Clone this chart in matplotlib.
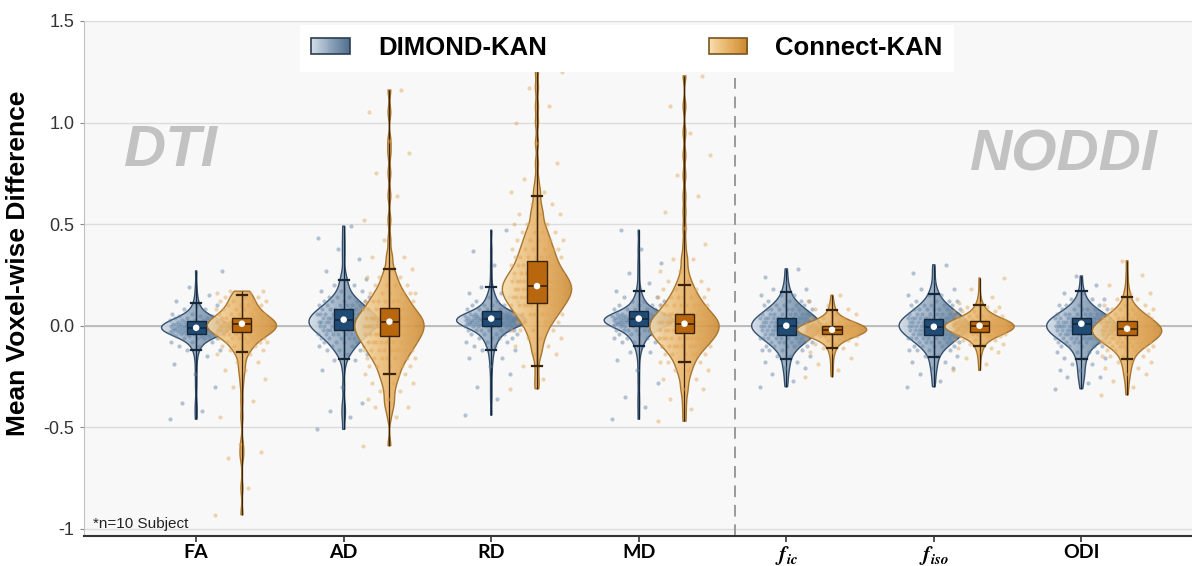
import numpy as np
import matplotlib.pyplot as plt
from matplotlib.colors import LinearSegmentedColormap
from matplotlib.legend_handler import HandlerBase
from matplotlib.patches import Rectangle

plt.rcParams['font.family'] = ['Liberation Sans', 'DejaVu Sans']
plt.rcParams['mathtext.fontset'] = 'stix'

metrics = ["FA", "AD", "RD", "MD", r"$\mathbfit{f}_{\mathbfit{ic}}$",
           r"$\mathbfit{f}_{\mathbfit{iso}}$", "ODI"]

fa_dimond_v = [-0.46, -0.42, -0.38, -0.30, -0.24, -0.19, -0.15, -0.12, -0.10, -0.08, -0.06, -0.05,
               -0.04, -0.03, -0.02, -0.01, 0.0, 0.01, 0.02, 0.03, 0.04, 0.05, 0.06, 0.08, 0.10,
               0.12, 0.15, 0.19, 0.27]
fa_dimond_n = [1, 1, 1, 1, 1, 1, 1, 2, 2, 3, 4, 5, 7, 9, 11, 12, 11, 9, 7, 5, 4, 3, 2, 2, 2,
               1, 1, 1, 1]
fa_connect_v = [-0.93, -0.80, -0.65, -0.62, -0.58, -0.45, -0.37, -0.30, -0.26, -0.22, -0.18, -0.14,
                -0.12, -0.10, -0.08, -0.06, -0.04, -0.02, 0.0, 0.02, 0.04, 0.06, 0.08, 0.10, 0.12,
                0.14, 0.16, 0.17]
fa_connect_n = [1, 1, 1, 1, 1, 1, 1, 1, 1, 2, 2, 2, 3, 3, 4, 6, 8, 10, 12, 10, 8, 6, 5, 4, 4,
                3, 3, 2]
ad_dimond_v = [-0.51, -0.45, -0.42, -0.38, -0.30, -0.22, -0.17, -0.14, -0.12, -0.10, -0.08, -0.06,
               -0.04, -0.02, 0.0, 0.02, 0.04, 0.06, 0.08, 0.10, 0.12, 0.14, 0.17, 0.20, 0.23,
               0.27, 0.33, 0.38, 0.43, 0.49]
ad_dimond_n = [1, 1, 1, 1, 1, 1, 2, 2, 3, 4, 5, 6, 8, 10, 11, 12, 11, 10, 8, 6, 5, 4, 3, 2, 2,
               1, 1, 1, 1, 1]
ad_connect_v = [-0.59, -0.45, -0.40, -0.36, -0.32, -0.28, -0.24, -0.20, -0.16, -0.12, -0.08, -0.04,
                0.0, 0.04, 0.08, 0.12, 0.16, 0.20, 0.24, 0.28, 0.34, 0.42, 0.52, 0.64, 0.75,
                0.85, 0.91, 1.05, 1.16]
ad_connect_n = [1, 1, 2, 2, 2, 3, 4, 5, 7, 9, 11, 13, 14, 13, 10, 8, 6, 4, 3, 2, 2, 1, 1, 1, 1,
                1, 1, 1, 1]
rd_dimond_v = [-0.44, -0.36, -0.30, -0.24, -0.20, -0.16, -0.12, -0.10, -0.08, -0.06, -0.04, -0.02,
               0.0, 0.01, 0.02, 0.03, 0.04, 0.05, 0.06, 0.08, 0.10, 0.12, 0.14, 0.16, 0.19,
               0.24, 0.30, 0.37, 0.47]
rd_dimond_n = [1, 1, 1, 1, 1, 2, 2, 2, 3, 4, 5, 7, 9, 11, 12, 12, 11, 9, 7, 5, 4, 3, 2, 2, 1,
               1, 1, 1, 1]
rd_connect_v = [-0.31, -0.26, -0.20, -0.14, -0.10, -0.06, -0.02, 0.02, 0.06, 0.10, 0.14, 0.18,
                0.22, 0.26, 0.30, 0.34, 0.38, 0.42, 0.46, 0.50, 0.55, 0.60, 0.66, 0.72, 0.80,
                0.90, 1.00, 1.08, 1.17, 1.25]
rd_connect_n = [1, 1, 1, 2, 2, 3, 4, 6, 8, 10, 12, 13, 12, 10, 8, 7, 6, 5, 4, 3, 3, 2, 2, 1, 1,
                1, 1, 1, 1, 1]
md_dimond_v = [-0.46, -0.40, -0.35, -0.28, -0.22, -0.17, -0.13, -0.10, -0.08, -0.06, -0.04, -0.02,
               0.0, 0.01, 0.02, 0.03, 0.04, 0.05, 0.06, 0.08, 0.10, 0.12, 0.14, 0.17, 0.21,
               0.26, 0.31, 0.38, 0.47]
md_dimond_n = [1, 1, 1, 1, 1, 1, 2, 2, 3, 4, 5, 7, 9, 11, 12, 12, 11, 9, 7, 5, 4, 3, 2, 2, 1,
               1, 1, 1, 1]
md_connect_v = [-0.47, -0.41, -0.36, -0.31, -0.26, -0.22, -0.18, -0.14, -0.10, -0.06, -0.02, 0.02,
                0.06, 0.10, 0.14, 0.18, 0.22, 0.27, 0.33, 0.40, 0.48, 0.56, 0.64, 0.74, 0.84,
                0.95, 1.08, 1.23]
md_connect_n = [1, 1, 1, 2, 2, 3, 4, 6, 9, 12, 14, 14, 11, 8, 6, 4, 3, 2, 2, 1, 1, 1, 1, 1, 1,
                1, 1, 1]
fic_dimond_v = [-0.30, -0.27, -0.24, -0.21, -0.18, -0.15, -0.12, -0.10, -0.08, -0.06, -0.04, -0.02,
                0.0, 0.02, 0.04, 0.06, 0.08, 0.10, 0.12, 0.15, 0.18, 0.21, 0.24, 0.28]
fic_dimond_n = [1, 1, 1, 2, 2, 3, 4, 5, 7, 9, 11, 13, 14, 13, 11, 9, 7, 5, 4, 3, 2, 1, 1, 1]
fic_connect_v = [-0.25, -0.22, -0.19, -0.16, -0.13, -0.11, -0.09, -0.07, -0.05, -0.04, -0.03, -0.02,
                 -0.01, 0.0, 0.01, 0.02, 0.04, 0.06, 0.08, 0.10, 0.12, 0.15]
fic_connect_n = [1, 1, 1, 1, 2, 2, 3, 4, 7, 10, 13, 15, 13, 10, 7, 4, 3, 2, 2, 1, 1, 1]
fiso_dimond_v = [-0.30, -0.27, -0.24, -0.21, -0.18, -0.15, -0.12, -0.10, -0.08, -0.06, -0.04, -0.02,
                 0.0, 0.02, 0.04, 0.06, 0.08, 0.10, 0.12, 0.15, 0.18, 0.22, 0.26, 0.30]
fiso_dimond_n = [1, 1, 1, 2, 2, 3, 4, 5, 7, 9, 11, 13, 14, 13, 11, 9, 7, 5, 4, 3, 2, 1, 1, 1]
fiso_connect_v = [-0.22, -0.19, -0.16, -0.13, -0.11, -0.09, -0.07, -0.05, -0.04, -0.03, -0.02, -0.01,
                  0.0, 0.01, 0.02, 0.03, 0.05, 0.07, 0.09, 0.11, 0.14, 0.18, 0.235]
fiso_connect_n = [1, 1, 1, 2, 2, 3, 4, 6, 8, 10, 12, 14, 15, 14, 12, 9, 6, 4, 3, 2, 1, 1, 1]
odi_dimond_v = [-0.31, -0.28, -0.25, -0.22, -0.19, -0.16, -0.13, -0.10, -0.08, -0.06, -0.04, -0.02,
                0.0, 0.02, 0.04, 0.06, 0.08, 0.10, 0.13, 0.16, 0.20, 0.245]
odi_dimond_n = [1, 1, 2, 2, 2, 3, 4, 5, 7, 9, 11, 13, 14, 13, 11, 8, 6, 4, 3, 2, 1, 1]
odi_connect_v = [-0.34, -0.30, -0.27, -0.24, -0.21, -0.18, -0.15, -0.12, -0.10, -0.08, -0.06, -0.04,
                 -0.02, 0.0, 0.02, 0.04, 0.06, 0.08, 0.10, 0.13, 0.16, 0.20, 0.25, 0.32]
odi_connect_n = [1, 1, 1, 2, 2, 3, 4, 5, 7, 9, 11, 13, 14, 12, 10, 8, 6, 4, 3, 2, 2, 1, 1, 1]

dimond_samples = [np.repeat(v, n) for v, n in [
    (fa_dimond_v, fa_dimond_n), (ad_dimond_v, ad_dimond_n), (rd_dimond_v, rd_dimond_n),
    (md_dimond_v, md_dimond_n), (fic_dimond_v, fic_dimond_n), (fiso_dimond_v, fiso_dimond_n),
    (odi_dimond_v, odi_dimond_n)]]
connect_samples = [np.repeat(v, n) for v, n in [
    (fa_connect_v, fa_connect_n), (ad_connect_v, ad_connect_n), (rd_connect_v, rd_connect_n),
    (md_connect_v, md_connect_n), (fic_connect_v, fic_connect_n), (fiso_connect_v, fiso_connect_n),
    (odi_connect_v, odi_connect_n)]]

dimond_med = [-0.01, 0.03, 0.035, 0.035, 0.0, -0.005, 0.01]
dimond_q1 = [-0.04, -0.02, 0.0, 0.0, -0.045, -0.045, -0.04]
dimond_q3 = [0.025, 0.08, 0.07, 0.07, 0.04, 0.035, 0.04]
dimond_wlo = [-0.12, -0.165, -0.12, -0.10, -0.165, -0.155, -0.165]
dimond_whi = [0.11, 0.225, 0.19, 0.17, 0.165, 0.155, 0.17]

connect_med = [0.01, 0.02, 0.195, 0.01, -0.02, 0.0, -0.015]
connect_q1 = [-0.03, -0.05, 0.11, -0.035, -0.04, -0.03, -0.045]
connect_q3 = [0.04, 0.085, 0.32, 0.06, 0.0, 0.025, 0.025]
connect_wlo = [-0.13, -0.24, -0.20, -0.18, -0.11, -0.10, -0.165]
connect_whi = [0.15, 0.28, 0.64, 0.20, 0.075, 0.10, 0.14]

xpos = np.arange(len(metrics))
offset = 0.31
grad = np.linspace(0, 1, 256).reshape(1, -1)

blue_cmap = LinearSegmentedColormap.from_list('b', ['#d2dce7', '#8ea4bb', '#526f8e'])
orange_cmap = LinearSegmentedColormap.from_list('o', ['#f6deb0', '#e8b265', '#cc8a32'])


def fixed_bw(kde):
    # same kernel width (in data units) for every violin
    return 0.03 / np.std(kde.dataset, ddof=1)


def draw_group(ax, samples, med, q1, q3, wlo, whi, xs, cmap, edge, boxcol, boxedge, dotcol, z):
    vp = ax.violinplot(samples, positions=xs, widths=0.47, showextrema=False, bw_method=fixed_bw)
    for body in vp['bodies']:
        body.set_facecolor('none')
        body.set_edgecolor(edge)
        body.set_linewidth(1.0)
        body.set_alpha(1)
        body.set_zorder(z + 0.5)
        path = body.get_paths()[0]
        bb = path.get_extents()
        im = ax.imshow(grad, extent=[bb.x0, bb.x1, bb.y0, bb.y1], origin='lower',
                       aspect='auto', cmap=cmap, alpha=0.88, zorder=z, interpolation='bilinear')
        im.set_clip_path(path, transform=ax.transData)

    # thin line from min to max
    ax.vlines(xs, [s.min() for s in samples], [s.max() for s in samples],
              color=boxedge, lw=0.9, zorder=z + 1)

    # jittered points
    for x, s in zip(xs, samples):
        idx = np.arange(len(s))
        jit = ((idx * 0.618034) % 1 - 0.5) * 0.36
        ax.scatter(x + jit, s, s=9, color=dotcol, alpha=0.45, lw=0, zorder=z + 1)

    stats = []
    for i in range(len(xs)):
        stats.append(dict(med=med[i], q1=q1[i], q3=q3[i], whislo=wlo[i], whishi=whi[i], fliers=[]))
    ax.bxp(stats, positions=xs, widths=0.13, patch_artist=True, showfliers=False,
           boxprops=dict(facecolor=boxcol, edgecolor=boxedge, lw=1),
           medianprops=dict(color=boxedge, lw=1.2),
           whiskerprops=dict(color=boxedge, lw=1),
           capprops=dict(color=boxedge, lw=1.6),
           capwidths=0.07, zorder=z + 2, manage_ticks=False)
    ax.scatter(xs, med, s=22, color='white', edgecolor='none', zorder=z + 3)


class GradHandler(HandlerBase):
    def __init__(self, cmap, edge):
        super().__init__()
        self.cmap = cmap
        self.edge = edge

    def create_artists(self, legend, orig_handle, xdescent, ydescent, width, height, fontsize, trans):
        n = 40
        arts = []
        for i in range(n):
            r = Rectangle((-xdescent + i * width / n, -ydescent), width / n + 0.3, height,
                          facecolor=self.cmap(i / (n - 1)), edgecolor='none', transform=trans)
            arts.append(r)
        arts.append(Rectangle((-xdescent, -ydescent), width, height, facecolor='none',
                              edgecolor=self.edge, lw=1.2, transform=trans))
        return arts


fig = plt.figure(figsize=(11.92, 5.66), dpi=100)
ax = fig.add_axes([0.0705, 0.053, 0.9295, 0.91])
ax.set_facecolor('#f8f8f8')

draw_group(ax, dimond_samples, dimond_med, dimond_q1, dimond_q3, dimond_wlo, dimond_whi,
           xpos, blue_cmap, '#344f6d', '#1f4b75', '#15273b', '#5b7fa3', 3)
draw_group(ax, connect_samples, connect_med, connect_q1, connect_q3, connect_wlo, connect_whi,
           xpos + offset, orange_cmap, '#a8752e', '#b9670f', '#3a2306', '#e0a453', 8)

ax.axhline(0, color='#b8b8b8', lw=1.3, zorder=1)
ax.vlines(3.65, -1.035, 1.22, color='#9a9a9a', lw=1.4, linestyles=(0, (6, 4)), zorder=1)

ax.set_xlim(-0.76, 6.75)
ax.set_ylim(-1.035, 1.5)
ax.set_yticks([-1, -0.5, 0, 0.5, 1.0, 1.5])
ax.set_yticklabels(['-1', '-0.5', '0.0', '0.5', '1.0', '1.5'], fontsize=13, color='#333333')
ax.set_xticks(xpos)
ax.set_xticklabels(metrics, fontsize=14, fontweight='bold', family='Lato')
for lab in ax.get_xticklabels():
    if lab.get_text().startswith('$'):
        lab.set_fontsize(15.5)
ax.tick_params(axis='y', length=3, color='#888888', pad=4)
ax.tick_params(axis='x', length=4, color='#333333', width=1.2, pad=1.5)
ax.yaxis.grid(True, color='#dcdcdc', lw=1)
ax.set_axisbelow(True)
for sp in ['top', 'right']:
    ax.spines[sp].set_visible(False)
ax.spines['left'].set_color('#c0c0c0')
ax.spines['bottom'].set_color('#333333')
ax.spines['bottom'].set_linewidth(1.5)

ax.set_ylabel('Mean Voxel-wise Difference', fontsize=19, fontweight='bold')
ax.yaxis.set_label_coords(-0.049, 0.53)

ax.text(-0.17, 0.86, 'DTI', fontsize=42, fontweight='bold', style='italic', color='#c2c2c2',
        ha='center', va='center', zorder=0.5)
ax.text(5.88, 0.84, 'NODDI', fontsize=42, fontweight='bold', style='italic', color='#c2c2c2',
        ha='center', va='center', zorder=0.5)
ax.text(-0.70, -0.975, '*n=10 Subject', fontsize=11, color='#222222', ha='left', va='center')

h1 = Rectangle((0, 0), 1, 1)
h2 = Rectangle((0, 0), 1, 1)
leg = fig.legend([h1, h2], ['DIMOND-KAN', 'Connect-KAN'],
                 handler_map={h1: GradHandler(blue_cmap, '#2a3d52'),
                              h2: GradHandler(orange_cmap, '#7a5420')},
                 loc='center', bbox_to_anchor=(0.526, 0.915), ncol=2, frameon=True,
                 prop=dict(family='Liberation Sans', weight='bold', size=18.5),
                 handlelength=1.5, handleheight=0.55, handletextpad=1.1, columnspacing=6.3,
                 fancybox=False, framealpha=1, borderpad=0.45)
leg.get_frame().set_facecolor('white')
leg.get_frame().set_edgecolor('none')

fig.savefig('out.png', dpi=100, facecolor='white')
